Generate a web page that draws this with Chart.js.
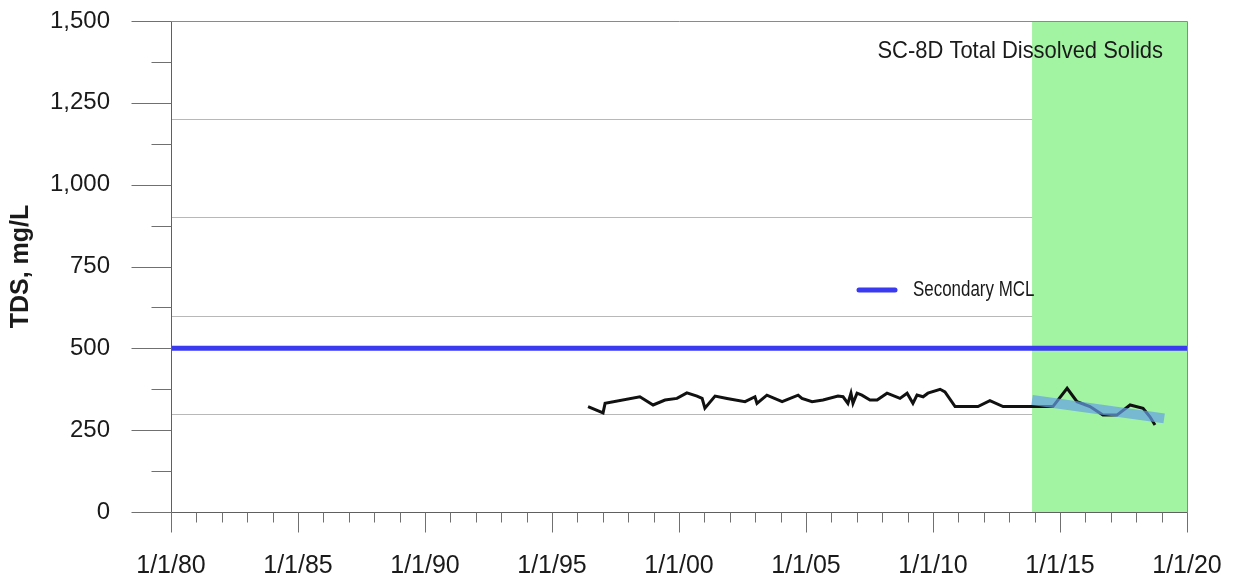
<!DOCTYPE html>
<html>
<head>
<meta charset="utf-8">
<title>SC-8D Total Dissolved Solids</title>
<script src="https://cdn.jsdelivr.net/npm/chart.js@4.4.1/dist/chart.umd.min.js"></script>
<style>
  html, body { margin: 0; padding: 0; background: #fff; }
  #wrap { width: 1241px; height: 583px; }
</style>
</head>
<body>
<div id="wrap"><canvas id="tdsChart" width="1241" height="583"></canvas></div>
<script>
// sample dates as decimal years, TDS in mg/L
const sampleYears = [1996.42, 1997.01, 1997.09, 1998.46, 1998.98, 1999.45, 1999.92, 2000.31, 2000.71, 2000.91,
  2001.02, 2001.42, 2001.89, 2002.60, 2002.99, 2003.07, 2003.46, 2004.06, 2004.69, 2004.84,
  2005.24, 2005.67, 2006.26, 2006.46, 2006.65, 2006.77, 2006.85, 2007.01, 2007.20, 2007.52,
  2007.80, 2008.19, 2008.70, 2008.98, 2009.21, 2009.37, 2009.61, 2009.80, 2010.28, 2010.47,
  2010.87, 2011.77, 2012.24, 2012.76, 2014.72, 2015.28, 2015.67, 2016.18, 2016.69, 2017.24,
  2017.76, 2018.27, 2018.54, 2018.74];
const tdsValues = [322, 303, 332, 352, 327, 342, 347, 364, 354, 347,
  317, 354, 347, 337, 352, 332, 357, 337, 357, 347,
  337, 342, 354, 352, 332, 363, 332, 363, 357, 342,
  342, 363, 347, 363, 332, 357, 352, 363, 375, 367,
  322, 322, 340, 322, 322, 378, 337, 322, 296, 296,
  327, 317, 291, 266];

// trend over the recent period
const trendYears = [2013.9, 2019.1];
const trendValues = [342, 286];

// secondary MCL
const mclYears = [1980, 2020];
const mclValues = [500, 500];

// shaded period
const shadeYears = [2013.9, 2020];
const shadeValues = [1500, 1500];

const gridValues = [300, 600, 900, 1200];
const chartTitle = 'SC-8D Total Dissolved Solids';

const toPoints = (xs, ys) => xs.map((x, i) => ({ x: x, y: ys[i] }));

// draws text squeezed horizontally (the source uses a condensed face)
function squeezedText(ctx, text, x, y, sx) {
  ctx.save();
  ctx.translate(x, y);
  ctx.scale(sx, 1);
  ctx.fillText(text, 0, 0);
  ctx.restore();
}

const frame = {
  id: 'frame',
  beforeDatasetsDraw(chart) {
    const { ctx, chartArea: a } = chart;
    const y = chart.scales.y;
    ctx.save();
    ctx.strokeStyle = '#b8b8b8';
    ctx.lineWidth = 1;
    gridValues.forEach(v => {
      const py = Math.round(y.getPixelForValue(v)) + 0.5;
      ctx.beginPath();
      ctx.moveTo(a.left, py);
      ctx.lineTo(a.right, py);
      ctx.stroke();
    });
    ctx.restore();
  },
  afterDatasetsDraw(chart) {
    const { ctx, chartArea: a } = chart;
    const x = chart.scales.x, y = chart.scales.y;
    const L = Math.round(a.left) + 0.5, R = Math.round(a.right) + 0.5;
    const T = Math.round(a.top) + 0.5, B = Math.round(a.bottom) + 0.5;
    ctx.save();
    ctx.lineWidth = 1;

    // borders
    ctx.strokeStyle = '#8a8a8a';
    ctx.beginPath();
    ctx.moveTo(L, T); ctx.lineTo(R, T);
    ctx.moveTo(R, T); ctx.lineTo(R, B);
    ctx.stroke();

    // axes
    ctx.strokeStyle = '#606060';
    ctx.beginPath();
    ctx.moveTo(L, T); ctx.lineTo(L, B);
    ctx.moveTo(L, B); ctx.lineTo(R, B);
    ctx.stroke();

    // y ticks
    ctx.strokeStyle = '#707070';
    ctx.beginPath();
    for (let v = 0; v <= 1500; v += 125) {
      const py = Math.round(y.getPixelForValue(v)) + 0.5;
      const len = v % 250 === 0 ? 40 : 20;
      ctx.moveTo(L - len, py);
      ctx.lineTo(L, py);
    }
    // x ticks
    for (let yr = 1980; yr <= 2020; yr++) {
      const px = Math.round(x.getPixelForValue(yr)) + 0.5;
      const len = yr % 5 === 0 ? 20 : 10;
      ctx.moveTo(px, B);
      ctx.lineTo(px, B + len);
    }
    ctx.stroke();

    // chart title
    ctx.fillStyle = '#1a1a1a';
    ctx.font = '24px "Liberation Sans", Arial, sans-serif';
    ctx.textAlign = 'right';
    ctx.textBaseline = 'middle';
    squeezedText(ctx, chartTitle, a.right - 24, a.top + 30, 0.915);

    // legend entry for the MCL line
    const ds = chart.data.datasets[2];
    const ly = a.top + 269;
    ctx.strokeStyle = ds.borderColor;
    ctx.lineWidth = 5;
    ctx.lineCap = 'round';
    ctx.beginPath();
    ctx.moveTo(a.left + 688, ly);
    ctx.lineTo(a.left + 724, ly);
    ctx.stroke();
    ctx.font = '22px "Liberation Sans", Arial, sans-serif';
    ctx.textAlign = 'left';
    squeezedText(ctx, ds.label, a.left + 742, ly, 0.77);
    ctx.restore();
  }
};

Chart.defaults.font.family = '"Liberation Sans", Arial, sans-serif';
Chart.defaults.color = '#1a1a1a';

const hiddenTicks = len => ({
  display: true,
  drawOnChartArea: false,
  drawTicks: true,
  tickLength: len,
  tickColor: 'rgba(0,0,0,0)'
});

const ctx = document.getElementById('tdsChart').getContext('2d');
const tdsChart = new Chart(ctx, {
  type: 'line',
  data: {
    datasets: [
      {
        label: 'Trend',
        data: toPoints(trendYears, trendValues),
        borderColor: 'rgba(100,160,230,0.7)',
        borderWidth: 10,
        pointRadius: 0,
        order: 1
      },
      {
        label: 'TDS',
        data: toPoints(sampleYears, tdsValues),
        borderColor: '#111',
        borderWidth: 3,
        pointRadius: 0,
        tension: 0,
        order: 2
      },
      {
        label: 'Secondary MCL',
        data: toPoints(mclYears, mclValues),
        borderColor: '#3a3af0',
        borderWidth: 5,
        pointRadius: 0,
        order: 3
      },
      {
        label: 'Shade',
        data: toPoints(shadeYears, shadeValues),
        borderWidth: 0,
        borderColor: 'rgba(0,0,0,0)',
        backgroundColor: 'rgb(162,244,162)',
        fill: 'origin',
        pointRadius: 0,
        order: 4
      }
    ]
  },
  options: {
    responsive: false,
    animation: false,
    layout: { padding: { left: 0, top: 21, right: 54, bottom: 0 } },
    plugins: {
      legend: { display: false },
      tooltip: { enabled: false }
    },
    scales: {
      x: {
        type: 'linear',
        min: 1980,
        max: 2020,
        afterFit: s => { s.height = 71; },
        grid: hiddenTicks(39),
        border: { display: false },
        ticks: {
          stepSize: 5,
          padding: 0,
          maxRotation: 0,
          autoSkip: false,
          color: '#1a1a1a',
          font: { size: 25 },
          callback: v => '1/1/' + String(v % 100).padStart(2, '0')
        }
      },
      y: {
        min: 0,
        max: 1500,
        afterFit: s => { s.width = 171; },
        grid: hiddenTicks(61),
        border: { display: false },
        ticks: {
          stepSize: 250,
          padding: 0,
          color: '#1a1a1a',
          font: { size: 24 },
          callback: v => v.toLocaleString('en-US')
        },
        title: {
          display: true,
          text: 'TDS, mg/L',
          color: '#1a1a1a',
          padding: { top: 6, bottom: 0 },
          font: { size: 25, weight: 'bold', lineHeight: 1.2 }
        }
      }
    }
  },
  plugins: [frame]
});
</script>
</body>
</html>
